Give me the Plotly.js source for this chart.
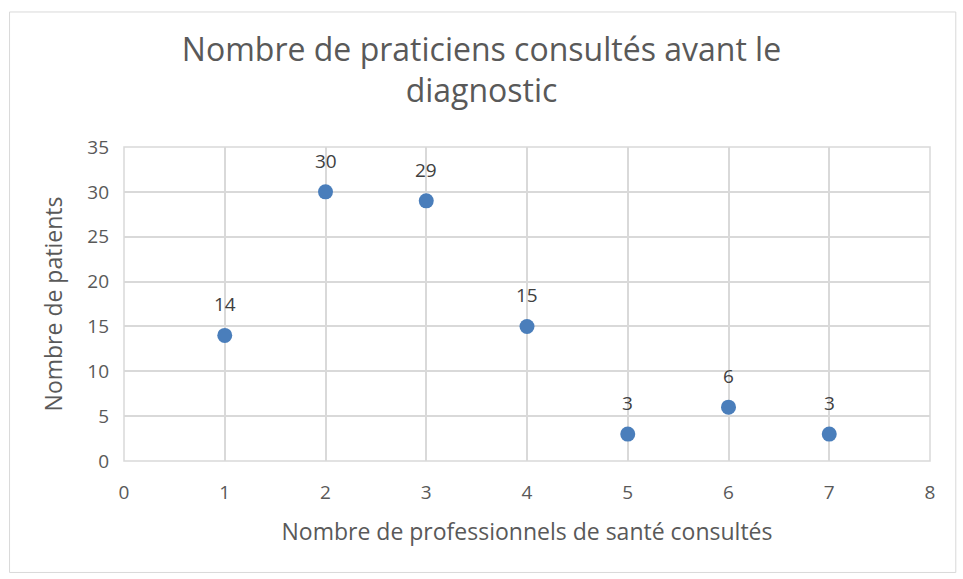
<!DOCTYPE html>
<html>
<head>
<meta charset="utf-8">
<script src="https://cdn.plot.ly/plotly-3.0.1.min.js"></script>
<style>
html,body{margin:0;padding:0;background:#fff;}
#chart{width:963px;height:579px;}
</style>
</head>
<body>
<div id="chart"></div>
<script>
const professionnels = [1, 2, 3, 4, 5, 6, 7];
const patients = [14, 30, 29, 15, 3, 6, 3];
const xTicks = [0, 1, 2, 3, 4, 5, 6, 7, 8];
const yTicks = [0, 5, 10, 15, 20, 25, 30, 35];

const trace = {
  x: professionnels,
  y: patients,
  type: 'scatter',
  mode: 'markers',
  marker: {size: 15, color: '#4a7ebb'},
  cliponaxis: false,
  hoverinfo: 'x+y'
};

const labels = professionnels.map((x, i) => ({
  x: x, y: patients[i], xref: 'x', yref: 'y',
  text: String(patients[i]), showarrow: false, yshift: 31,
  font: {family: 'Open Sans, sans-serif', size: 19, color: '#404040'}
}));

const layout = {
  width: 963,
  height: 579,
  margin: {l: 124, r: 33, t: 147, b: 118},
  paper_bgcolor: '#ffffff',
  plot_bgcolor: '#ffffff',
  showlegend: false,
  font: {family: 'Open Sans, sans-serif', color: '#595959'},
  title: {
    text: 'Nombre de praticiens consultés avant le<br>diagnostic',
    font: {family: 'Open Sans, sans-serif', size: 32, color: '#595959'},
    x: 0.5, xref: 'container', xanchor: 'center',
    y: 0.895, yref: 'container', yanchor: 'top'
  },
  xaxis: {
    range: [0, 8],
    tickvals: xTicks,
    ticktext: xTicks.map(String),
    showgrid: true, gridcolor: '#d9d9d9', gridwidth: 1.5,
    zeroline: false,
    showline: false,
    ticks: '',
    ticklabelstandoff: 18,
    tickfont: {size: 19, color: '#595959'},
    title: {text: 'Nombre de professionnels de santé consultés', font: {size: 23, color: '#595959'}, standoff: 19},
    fixedrange: true
  },
  yaxis: {
    range: [0, 35],
    tickvals: yTicks,
    ticktext: yTicks.map(String),
    showgrid: true, gridcolor: '#d9d9d9', gridwidth: 1.5,
    zeroline: false,
    showline: false,
    ticks: '',
    ticklabelstandoff: 14,
    tickfont: {size: 19, color: '#595959'},
    title: {text: 'Nombre de patients', font: {size: 23, color: '#595959'}, standoff: 18},
    fixedrange: true
  },
  annotations: labels,
  shapes: [
    {type: 'rect', xref: 'paper', yref: 'paper', x0: 0, x1: 1, y0: 0, y1: 1,
     line: {color: '#d9d9d9', width: 1.5}, layer: 'below'},
    {type: 'rect', xref: 'paper', yref: 'paper', x0: -0.142, x1: 1.032, y0: -0.355, y1: 1.43,
     line: {color: '#d9d9d9', width: 1}, layer: 'below'}
  ]
};

Plotly.newPlot('chart', [trace], layout, {displayModeBar: false});
</script>
</body>
</html>
